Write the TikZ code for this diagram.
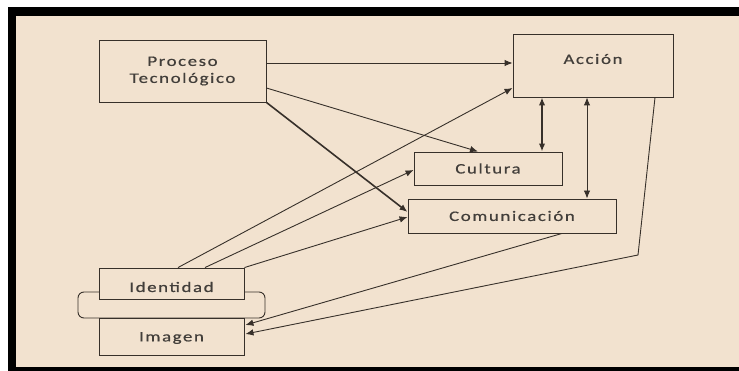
\documentclass[tikz,border=0pt]{standalone}
\usepackage{fontspec}
\setmainfont[FakeStretch=1.3,LetterSpace=11,FakeBold=0.6]{Carlito}
\usetikzlibrary{arrows.meta,calc}
\definecolor{beige}{RGB}{242,226,207}
\definecolor{ink}{RGB}{55,48,42}
\definecolor{txtc}{RGB}{66,62,58}
\begin{document}
\begin{tikzpicture}[x=1pt,y=-1pt,
  box/.style={draw=ink,line width=0.9pt,fill=beige,inner sep=0pt,font=\fontsize{14.5}{17}\selectfont,text=txtc,align=center},
  txt/.style={inner sep=0pt,font=\fontsize{14.5}{17}\selectfont,text=txtc},
  conn/.style={draw=ink,line width=0.9pt,-{Latex[length=8pt,width=6.5pt]}},
  thickconn/.style={draw=ink,line width=1.6pt,-{Latex[length=8pt,width=6.5pt]}},
  both/.style={{Latex[length=8pt,width=6.5pt]}-{Latex[length=8pt,width=6.5pt]}}]
\useasboundingbox (0,0) rectangle (739,371);
\fill[white] (0,0) rectangle (739,371);
\fill[beige] (8,7) rectangle (739,371);
\fill[black] (8,7) rectangle (739,16);
\fill[black] (8,7) rectangle (16,371);
\fill[black] (8,367) rectangle (739,371);
% nodes
\node[box,minimum width=167pt,minimum height=62pt] (pt) at (182.5,71) {Proceso\\Tecnológico};
\node[box,minimum width=160pt,minimum height=63pt] (acc) at (593,65.5) {};
\node[txt] (acct) at (593,59) {Acción};
\node[box,minimum width=148pt,minimum height=33pt] (cul) at (488,168.5) {Cultura};
\node[box,minimum width=208pt,minimum height=34pt] (com) at (512,216) {Comunicación};
\node[box,minimum width=145pt,minimum height=37pt] (img) at (171.5,336.5) {};
\node[txt] (imgt) at (171.5,338) {Imagen};
\draw[ink,line width=0.9pt,rounded corners=6pt] (78,292) rectangle (265,318);
\node[box,minimum width=145pt,minimum height=31pt] (idn) at (171.5,283.5) {};
\node[txt] (idnt) at (171.5,287) {Identidad};
% connectors
\draw[conn] ($(pt.east)+(0,-8)$) -- ($(acc.west)+(0,-2.5)$);
\draw[conn] ($(pt.east)+(0,17)$) -- ($(cul.north)+(-10,0)$);
\draw[thickconn] (pt.south east) -- ($(com.west)+(0,-4)$);
\draw[conn] ($(idn.north)+(6.5,0)$) -- ($(acc.west)+(0,22.5)$);
\draw[conn] ($(idn.north)+(33.5,0)$) -- ($(cul.west)+(0,1.5)$);
\draw[conn] (idn.north east) -- ($(com.west)+(0,1)$);
\draw[thickconn,both] ($(acc.south)+(-51,0)$) -- ($(cul.north)+(54,0)$);
\draw[conn,both] ($(acc.south)+(-6,0)$) -- ($(com.north)+(75,0)$);
\draw[conn] ($(com.south)+(50,0)$) -- ($(img.east)+(1,-11.5)$);
\coordinate (bend) at (638,255);
\draw[conn] ($(acc.south)+(62,0)$) -- (bend) -- ($(img.east)+(1,-2.5)$);
\end{tikzpicture}
\end{document}
